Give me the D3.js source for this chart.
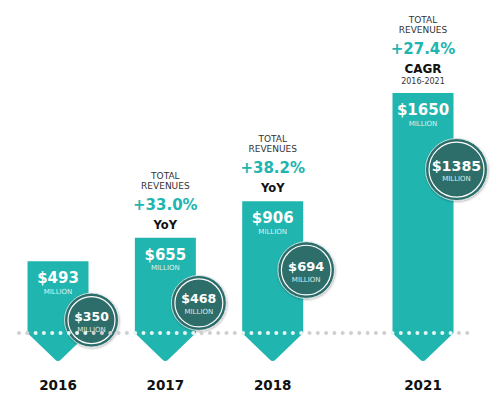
<!doctype html>
<html>

<head>
    <meta charset="utf-8">
    <title>Revenues</title>
    <style>
        body { margin: 0; background: #fff; }
        text { font-family: "DejaVu Sans", sans-serif; }
    </style>
</head>

<body>
    <svg width="500" height="399"></svg>
    <script src="https://cdn.jsdelivr.net/npm/d3@7"></script>
    <script>
    // Data
    var years = ["2016", "2017", "2018", "2021"];
    var revenues = [493, 655, 906, 1650];      // big teal bars
    var secondValues = [350, 468, 694, 1385];  // dark circles
    var growthValues = [null, "+33.0%", "+38.2%", "+27.4%"];
    var growthKinds = [null, "YoY", "YoY", "CAGR"];
    var growthPeriods = [null, null, null, "2016-2021"];
    var unitLabel = "MILLION";

    var width = 500;
    var height = 399;
    var baseline = 333;   // dotted line
    var barWidth = 61;
    var tipDepth = 29;    // arrow head below the dotted line
    var teal = "#21b5b0";
    var dark = "#2e6e6b";

    var svg = d3.select("svg")
        .attr("width", width)
        .attr("height", height);

    // 2021 sits a bit further out, there is a break between 2018 and 2021
    var slot = years.map(function(y, i) { return i + (y === "2021" ? 0.4 : 0); });

    var xScale = d3.scaleLinear()
        .domain([0, 3.4])
        .range([58, 423]);

    var yScale = d3.scaleLinear()
        .domain([0, 1650])
        .range([baseline, 93]);

    var rScale = d3.scaleLinear()
        .domain([350, 1385])
        .range([27, 31]);

    var defs = svg.append("defs");
    var shadow = defs.append("filter")
        .attr("id", "shadow")
        .attr("x", "-30%").attr("y", "-30%")
        .attr("width", "160%").attr("height", "160%");
    shadow.append("feDropShadow")
        .attr("dx", 0.5).attr("dy", 1)
        .attr("stdDeviation", 1.2)
        .attr("flood-color", "#000")
        .attr("flood-opacity", 0.3);

    // bar body + arrow head as one path
    function arrowPath(i) {
        var cx = xScale(slot[i]);
        var x0 = cx - barWidth / 2;
        var x1 = cx + barWidth / 2;
        var top = yScale(revenues[i]);
        var tip = baseline + tipDepth;
        return "M" + x0 + "," + top +
            "L" + x1 + "," + top +
            "L" + x1 + "," + baseline +
            "L" + (cx + 3) + "," + (tip - 2.5) +
            "Q" + cx + "," + (tip + 0.5) + " " + (cx - 3) + "," + (tip - 2.5) +
            "L" + x0 + "," + baseline + "Z";
    }

    var groups = svg.selectAll("g.year")
        .data(years)
        .enter().append("g")
        .classed("year", true);

    groups.append("path")
        .attr("d", function(d, i) { return arrowPath(i); })
        .attr("fill", teal);

    // dotted line across the chart, lighter where it crosses a bar
    var dots = d3.range(19, 468, 8.3);
    function onBar(x) {
        return years.some(function(d, i) {
            var cx = xScale(slot[i]);
            return x > cx - barWidth / 2 && x < cx + barWidth / 2;
        });
    }
    svg.append("g").selectAll("circle")
        .data(dots)
        .enter().append("circle")
        .attr("cx", function(d) { return d; })
        .attr("cy", baseline)
        .attr("r", 2)
        .attr("fill", function(d) { return onBar(d) ? "#e4f5f4" : "#cfcfcf"; });

    // value inside the bar
    groups.append("text")
        .attr("x", function(d, i) { return xScale(slot[i]); })
        .attr("y", function(d, i) { return yScale(revenues[i]) + 17; })
        .attr("text-anchor", "middle")
        .attr("dominant-baseline", "central")
        .attr("font-size", "15px")
        .attr("font-weight", "bold")
        .attr("fill", "#fff")
        .text(function(d, i) { return "$" + revenues[i]; });

    groups.append("text")
        .attr("x", function(d, i) { return xScale(slot[i]); })
        .attr("y", function(d, i) { return yScale(revenues[i]) + 30.5; })
        .attr("text-anchor", "middle")
        .attr("dominant-baseline", "central")
        .attr("font-size", "7px")
        .attr("fill", "#d9f3f1")
        .text(unitLabel);

    // dark circles, hung on the right edge of each bar
    function circleX(i) { return xScale(slot[i]) + barWidth / 2 + 3; }
    function circleY(i) { return yScale(secondValues[i]) + 38; }

    groups.append("circle")
        .attr("cx", function(d, i) { return circleX(i); })
        .attr("cy", function(d, i) { return circleY(i); })
        .attr("r", function(d, i) { return rScale(secondValues[i]); })
        .attr("fill", dark)
        .attr("stroke", "#e9f3f2")
        .attr("stroke-width", 0.8)
        .attr("filter", "url(#shadow)");

    groups.append("circle")
        .attr("cx", function(d, i) { return circleX(i); })
        .attr("cy", function(d, i) { return circleY(i); })
        .attr("r", function(d, i) { return rScale(secondValues[i]) - 3.5; })
        .attr("fill", "none")
        .attr("stroke", "#fff")
        .attr("stroke-width", 1.2);

    groups.append("text")
        .attr("x", function(d, i) { return circleX(i); })
        .attr("y", function(d, i) { return circleY(i) - 4; })
        .attr("text-anchor", "middle")
        .attr("dominant-baseline", "central")
        .attr("font-size", function(d, i) { return (rScale(secondValues[i]) * 0.46) + "px"; })
        .attr("font-weight", "bold")
        .attr("fill", "#fff")
        .text(function(d, i) { return "$" + secondValues[i]; });

    groups.append("text")
        .attr("x", function(d, i) { return circleX(i); })
        .attr("y", function(d, i) { return circleY(i) + 9.5; })
        .attr("text-anchor", "middle")
        .attr("dominant-baseline", "central")
        .attr("font-size", "7px")
        .attr("fill", "#d9ecea")
        .text(unitLabel);

    // year labels under the arrows
    groups.append("text")
        .attr("x", function(d, i) { return xScale(slot[i]); })
        .attr("y", 385)
        .attr("text-anchor", "middle")
        .attr("dominant-baseline", "central")
        .attr("font-family", "Liberation Sans, sans-serif")
        .attr("font-size", "13.5px")
        .attr("font-weight", "bold")
        .attr("fill", "#111")
        .text(function(d) { return d; });

    // growth annotations stacked above the bars
    groups.filter(function(d, i) { return growthValues[i] !== null; })
        .each(function(d) {
            var i = years.indexOf(d);
            var g = d3.select(this);
            var cx = xScale(slot[i]);
            var top = yScale(revenues[i]);
            var extra = growthPeriods[i] ? 11 : 0;
            var lines = [
                { t: "TOTAL", dy: -62 - extra, size: 9, weight: "normal", fill: "#333" },
                { t: "REVENUES", dy: -52 - extra, size: 9, weight: "normal", fill: "#333" },
                { t: growthValues[i], dy: -33 - extra, size: 15, weight: "bold", fill: teal },
                { t: growthKinds[i], dy: -13 - extra, size: growthPeriods[i] ? 12 : 11.5, weight: "bold", fill: "#111" }
            ];
            if (growthPeriods[i]) {
                lines.push({ t: growthPeriods[i], dy: -12, size: 8, weight: "normal", fill: "#333" });
            }
            g.selectAll("text.note")
                .data(lines)
                .enter().append("text")
                .classed("note", true)
                .attr("x", cx)
                .attr("y", function(l) { return top + l.dy; })
                .attr("text-anchor", "middle")
                .attr("dominant-baseline", "central")
                .attr("font-size", function(l) { return l.size + "px"; })
                .attr("font-weight", function(l) { return l.weight; })
                .attr("fill", function(l) { return l.fill; })
                .text(function(l) { return l.t; });
        });
    </script>
</body>

</html>
